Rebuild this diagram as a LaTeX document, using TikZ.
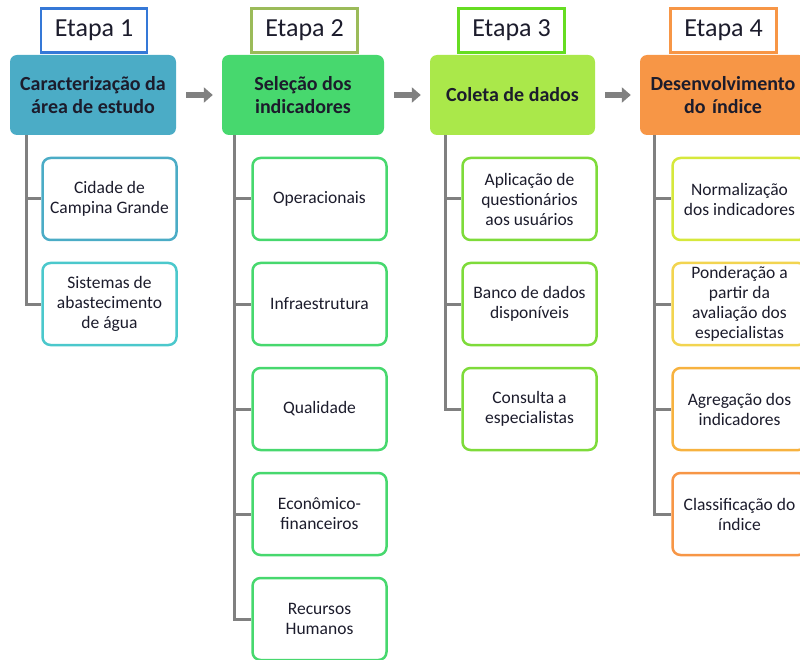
\documentclass[tikz,border=0pt]{standalone}
\usepackage{fontspec}
\setmainfont{Carlito}
\usetikzlibrary{arrows.meta}
\definecolor{txt}{HTML}{1C1C2C}
\definecolor{cA}{HTML}{4BACC6}
\definecolor{cAb}{HTML}{4BC8CC}
\definecolor{cB}{HTML}{47D86E}
\definecolor{cBe}{HTML}{9BBB59}
\definecolor{cC}{HTML}{AAE84A}
\definecolor{cCe}{HTML}{66DD22}
\definecolor{cCc}{HTML}{7EDB3A}
\definecolor{cD}{HTML}{F79646}
\definecolor{cD1}{HTML}{D6E83C}
\definecolor{cD2}{HTML}{F2D450}
\definecolor{cD3}{HTML}{F7B23F}
\definecolor{linegray}{HTML}{808080}
\tikzset{
  mainbox/.style={rounded corners=7pt, minimum height=80pt, align=center,
    font=\fontsize{20}{23}\selectfont\bfseries, text=txt, inner sep=1pt},
  etapabox/.style={draw, line width=2.5pt, fill=white, minimum width=106pt,
    minimum height=44pt, font=\fontsize{26}{30}\selectfont, text=txt},
  childbox/.style={draw, line width=2.5pt, fill=white, rounded corners=8pt,
    minimum width=134pt, minimum height=82pt, align=center,
    font=\fontsize{17.5}{20}\selectfont, text=txt, inner sep=1pt},
  tree/.style={draw=linegray, line width=3pt},
  flow/.style={draw=linegray, line width=6pt, -{Triangle[length=9pt,width=15pt]}}
}
\begin{document}
\begin{tikzpicture}[x=1pt,y=-1pt]
\useasboundingbox (0,0) rectangle (800,660);
\clip (0,0) rectangle (800,660);
% main boxes
\node[mainbox, fill=cA, minimum width=166pt] (m1) at (93,95) {Caracterização da\\área de estudo};
\node[mainbox, fill=cB, minimum width=162pt] (m2) at (303,95) {Seleção dos\\indicadores};
\node[mainbox, fill=cC, minimum width=165pt] (m3) at (512.5,95) {Coleta de dados};
\node[mainbox, fill=cD, minimum width=166pt, text width=164pt] (m4) at (723,95) {Desenvolvimento\\do índice};
% etapa boxes
\node[etapabox, draw=cA!70!blue] (e1) at (94,30.5) {Etapa 1};
\node[etapabox, draw=cBe] (e2) at (304.5,30.5) {Etapa 2};
\node[etapabox, draw=cCe] (e3) at (511.5,30.5) {Etapa 3};
\node[etapabox, draw=cD] (e4) at (723.5,30.5) {Etapa 4};
% arrows between stages
\draw[flow] ([xshift=10pt]m1.east) -- ([xshift=-9pt]m2.west);
\draw[flow] ([xshift=10pt]m2.east) -- ([xshift=-9pt]m3.west);
\draw[flow] ([xshift=10pt]m3.east) -- ([xshift=-9pt]m4.west);
% column 1 children
\node[childbox, draw=cA] (c11) at (109.5,199) {Cidade de\\Campina Grande};
\node[childbox, draw=cAb] (c12) at (109.5,304) {Sistemas de\\abastecimento\\de água};
% column 2 children
\node[childbox, draw=cB] (c21) at (319.5,199) {Operacionais};
\node[childbox, draw=cB] (c22) at (319.5,304) {Infraestrutura};
\node[childbox, draw=cB] (c23) at (319.5,409) {Qualidade};
\node[childbox, draw=cB] (c24) at (319.5,514) {Econômico-\\financeiros};
\node[childbox, draw=cB] (c25) at (319.5,619) {Recursos\\Humanos};
% column 3 children
\node[childbox, draw=cCc] (c31) at (529.5,199) {Aplicação de\\questionários\\aos usuários};
\node[childbox, draw=cCc] (c32) at (529.5,304) {Banco de dados\\disponíveis};
\node[childbox, draw=cCc] (c33) at (529.5,409) {Consulta a\\especialistas};
% column 4 children
\node[childbox, draw=cD1] (c41) at (739.5,199) {Normalização\\dos indicadores};
\node[childbox, draw=cD2] (c42) at (739.5,304) {Ponderação a\\partir da\\avaliação dos\\especialistas};
\node[childbox, draw=cD3] (c43) at (739.5,409) {Agregação dos\\indicadores};
\node[childbox, draw=cD] (c44) at (739.5,514) {Classificação do\\índice};
% tree connectors
\foreach \c in {c11,c12} \draw[tree] ([xshift=17pt]m1.south west) |- (\c.west);
\foreach \c in {c21,c22,c23,c24,c25} \draw[tree] ([xshift=13pt]m2.south west) |- (\c.west);
\foreach \c in {c31,c32,c33} \draw[tree] ([xshift=16pt]m3.south west) |- (\c.west);
\foreach \c in {c41,c42,c43,c44} \draw[tree] ([xshift=15pt]m4.south west) |- (\c.west);
\end{tikzpicture}
\end{document}
